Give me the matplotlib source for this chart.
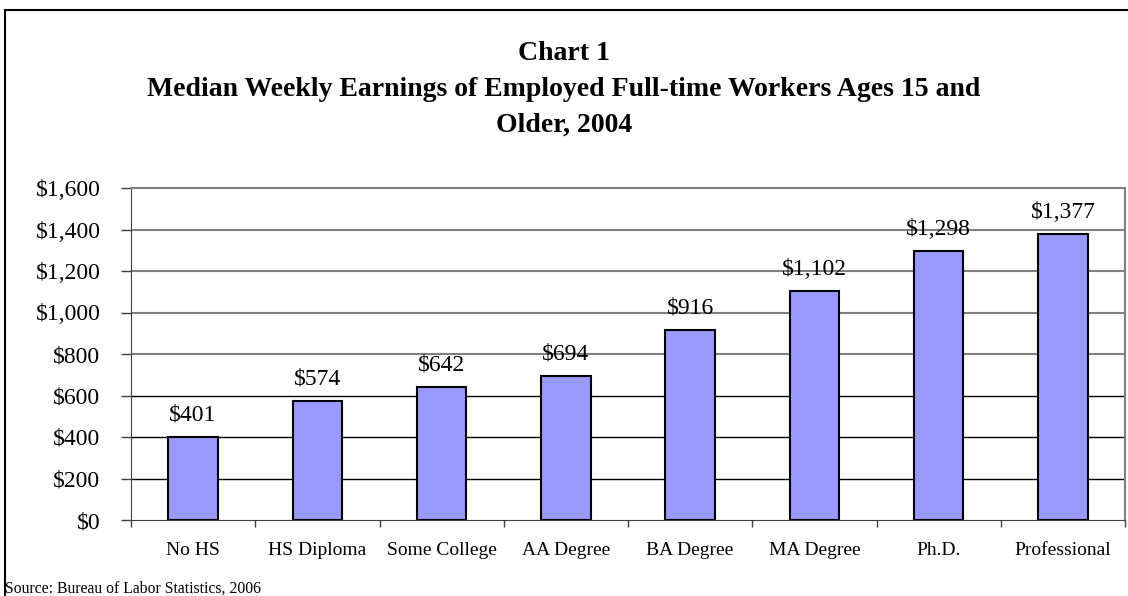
import matplotlib
matplotlib.use("Agg")
import matplotlib.pyplot as plt
from matplotlib.patches import Rectangle
from matplotlib.ticker import FuncFormatter, FixedLocator
import numpy as np

categories = ["No HS", "HS Diploma", "Some College", "AA Degree",
              "BA Degree", "MA Degree", "Ph.D.", "Professional"]
earnings = [401, 574, 642, 694, 916, 1102, 1298, 1377]
y_ticks = [0, 200, 400, 600, 800, 1000, 1200, 1400, 1600]

plt.rcParams['font.family'] = ['Liberation Serif', 'DejaVu Serif']

fig = plt.figure(figsize=(11.28, 5.96), dpi=100)
ax = fig.add_axes([131/1128, 76/596, (1125-131)/1128, (520-188)/596])

x = np.arange(len(categories))
ax.bar(x, earnings, width=0.40, color="#9999FF", edgecolor="black",
       linewidth=1.5, zorder=3)

# value labels above bars
for xi, v in zip(x, earnings):
    ax.annotate(f"${v:,}", (xi, v), xytext=(0, 8), textcoords="offset points",
                ha="center", va="bottom", fontsize=17)

ax.set_xlim(-0.5, len(categories) - 0.5)
ax.set_ylim(0, 1600)
ax.set_yticks(y_ticks)
ax.yaxis.set_major_formatter(FuncFormatter(lambda v, p: f"${int(v):,}"))
ax.tick_params(axis="y", labelsize=17, length=7, width=1, direction="out",
               pad=15, color="#404040")

# gridlines: lower ones render black, upper ones gray in the original
for yv in y_ticks[1:-1]:
    if yv <= 600:
        ax.axhline(yv, color="black", linewidth=1, zorder=1)
    else:
        ax.axhline(yv, color="#808080", linewidth=1.5, zorder=1)

ax.set_xticks(x)
ax.set_xticklabels(categories, fontsize=14)
ax.tick_params(axis="x", length=0, pad=16)
ax.xaxis.set_minor_locator(FixedLocator(np.arange(-0.5, len(categories), 1)))
ax.tick_params(axis="x", which="minor", length=5, width=1, direction="out",
               color="#404040")

ax.spines["top"].set_color("#808080")
ax.spines["top"].set_linewidth(1.5)
ax.spines["right"].set_color("#808080")
ax.spines["right"].set_linewidth(1.5)
ax.spines["left"].set_color("#404040")
ax.spines["bottom"].set_color("#404040")

title_lines = ["Chart 1",
               "Median Weekly Earnings of Employed Full-time Workers Ages 15 and",
               "Older, 2004"]
for i, line in enumerate(title_lines):
    fig.text(0.5, 1 - (50 + 36 * i)/596, line, ha="center", va="center_baseline",
             fontsize=20, fontweight="bold")

fig.text(5/1128, 1 - 589/596, "Source: Bureau of Labor Statistics, 2006",
         ha="left", va="center", fontsize=11.3)

# outer chart border
fig.patches.append(Rectangle((5/1128, -0.1), 1.2, 1 - 10/596 + 0.1,
                             transform=fig.transFigure, fill=False,
                             edgecolor="black", linewidth=1.5, clip_on=False))

fig.savefig("out.png", dpi=100)
